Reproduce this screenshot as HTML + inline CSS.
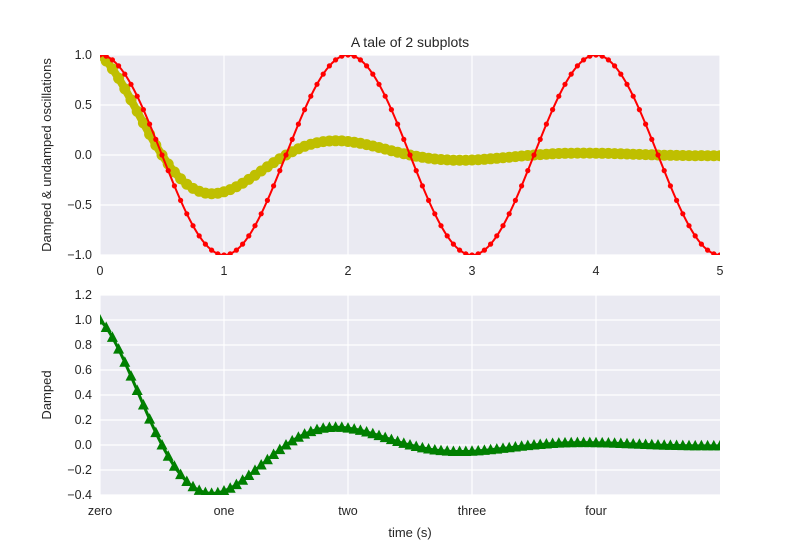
<!DOCTYPE html>
<html><head><meta charset="utf-8"><style>
body{margin:0;background:#fff;}
svg{display:block;font-family:"Liberation Sans",sans-serif;}
</style></head><body>
<svg id="c" width="800" height="550"></svg>
<script>
const topXTicks=[0,1,2,3,4,5];
const topYTicks=[-1.0,-0.5,0.0,0.5,1.0];
const botXTicks=[0,1,2,3,4];
const botXLabels=["zero","one","two","three","four"];
const botYTicks=[-0.4,-0.2,0.0,0.2,0.4,0.6,0.8,1.0,1.2];
const undampedX=[];for(let k=0;k<=100;k++)undampedX.push(k*0.05);
const undampedY=[1,.988,.951,.891,.809,.707,.588,.454,.309,.156,0,-.156,-.309,-.454,-.588,-.707,-.809,-.891,-.951,-.988,-1,
-.988,-.951,-.891,-.809,-.707,-.588,-.454,-.309,-.156,0,.156,.309,.454,.588,.707,.809,.891,.951,.988,1,
.988,.951,.891,.809,.707,.588,.454,.309,.156,0,-.156,-.309,-.454,-.588,-.707,-.809,-.891,-.951,-.988,-1,
-.988,-.951,-.891,-.809,-.707,-.588,-.454,-.309,-.156,0,.156,.309,.454,.588,.707,.809,.891,.951,.988,1,
.988,.951,.891,.809,.707,.588,.454,.309,.156,0,-.156,-.309,-.454,-.588,-.707,-.809,-.891,-.951,-.988,-1];
const dampedX=[];for(let k=0;k<=100;k++)dampedX.push(k*0.05);
const dampedY=[1,.940,.861,.767,.662,.551,.436,.320,.207,.099,0,-.090,-.170,-.237,-.292,-.334,-.363,-.381,-.387,-.382,
-.368,-.346,-.317,-.282,-.244,-.203,-.160,-.118,-.076,-.037,0,.033,.062,.087,.107,.123,.134,.140,.142,.141,
.135,.127,.117,.104,.090,.075,.059,.043,.028,.013,0,-.012,-.023,-.032,-.040,-.045,-.049,-.052,-.052,-.052,
-.050,-.047,-.043,-.038,-.033,-.027,-.022,-.016,-.010,-.005,0,.004,.008,.012,.015,.017,.018,.019,.019,.019,
.018,.017,.016,.014,.012,.010,.008,.006,.004,.002,0,-.002,-.003,-.004,-.005,-.006,-.007,-.006,-.007,-.007,-.007];

const svg=document.getElementById('c');const NS='http://www.w3.org/2000/svg';
function mk(t,a,p){const e=document.createElementNS(NS,t);for(const k in a)e.setAttribute(k,a[k]);(p||svg).appendChild(e);return e;}
const L=100,R=720;
const sx=x=>L+(x/5)*(R-L);
const syTop=y=>155-y*100;
const syBot=y=>495-(y+0.4)*125;
function smooth(xs,ys,fx,fy){const P=xs.map((x,i)=>[fx(x),fy(ys[i])]);let d='M'+P[0][0]+','+P[0][1];
for(let i=0;i<P.length-1;i++){const p0=P[Math.max(0,i-1)],p1=P[i],p2=P[i+1],p3=P[Math.min(P.length-1,i+2)];
d+=' C'+(p1[0]+(p2[0]-p0[0])/6)+','+(p1[1]+(p2[1]-p0[1])/6)+' '+(p2[0]-(p3[0]-p1[0])/6)+','+(p2[1]-(p3[1]-p1[1])/6)+' '+p2[0]+','+p2[1];}return d;}

// top axes
const g1=mk('g',{});


mk('rect',{x:L,y:55,width:R-L,height:200,fill:'#EAEAF2'},g1);
topXTicks.forEach(t=>{mk('line',{x1:sx(t),x2:sx(t),y1:55,y2:255,stroke:'#fff','stroke-width':1.2},g1);
const tx=mk('text',{x:sx(t),y:275,'text-anchor':'middle','font-size':12.5,fill:'#262626'},g1);tx.textContent=t;
});
topYTicks.forEach(t=>{mk('line',{x1:L,x2:R,y1:syTop(t),y2:syTop(t),stroke:'#fff','stroke-width':1.2},g1);
const tx=mk('text',{x:L-8,y:syTop(t)+4,'text-anchor':'end','font-size':12.5,fill:'#262626'},g1);tx.textContent=t.toFixed(1).replace('-','−');
});
const cp1=mk('clipPath',{id:'cp1'});mk('rect',{x:L,y:55,width:R-L,height:200},cp1);
const s1=mk('g',{'clip-path':'url(#cp1)'},g1);
const yl=mk('path',{d:smooth(dampedX,dampedY,sx,syTop),fill:'none',stroke:'#BFBF00','stroke-width':8},s1);

dampedX.forEach((x,i)=>{const c=mk('circle',{cx:sx(x),cy:syTop(dampedY[i]),r:5.5,fill:'#BFBF00'},s1);
});
const rl=mk('path',{d:smooth(undampedX,undampedY,sx,syTop),fill:'none',stroke:'#FF0000','stroke-width':2},s1);

undampedX.forEach((x,i)=>{const c=mk('circle',{cx:sx(x),cy:syTop(undampedY[i]),r:2.6,fill:'#FF0000'},s1);
});
let t=mk('text',{x:410,y:47,'text-anchor':'middle','font-size':14,fill:'#262626'});t.textContent='A tale of 2 subplots';

t=mk('text',{x:0,y:0,transform:'translate(51,155) rotate(-90)','text-anchor':'middle','font-size':13,fill:'#262626'});t.textContent='Damped & undamped oscillations';


// bottom axes
const g2=mk('g',{});


mk('rect',{x:L,y:295,width:R-L,height:200,fill:'#EAEAF2'},g2);
botXTicks.forEach((v,i)=>{mk('line',{x1:sx(v),x2:sx(v),y1:295,y2:495,stroke:'#fff','stroke-width':1.2},g2);
const tx=mk('text',{x:sx(v),y:515,'text-anchor':'middle','font-size':12.5,fill:'#262626'},g2);tx.textContent=botXLabels[i];
});
botYTicks.forEach(v=>{mk('line',{x1:L,x2:R,y1:syBot(v),y2:syBot(v),stroke:'#fff','stroke-width':1.2},g2);
const tx=mk('text',{x:L-8,y:syBot(v)+4,'text-anchor':'end','font-size':12.5,fill:'#262626'},g2);tx.textContent=v.toFixed(1).replace('-','−');
});
const cp2=mk('clipPath',{id:'cp2'});mk('rect',{x:L,y:295,width:R-L,height:200},cp2);
const s2=mk('g',{'clip-path':'url(#cp2)'},g2);
const gl=mk('path',{d:smooth(dampedX,dampedY,sx,syBot),fill:'none',stroke:'#007F00','stroke-width':3},s2);

dampedX.forEach((x,i)=>{const cx=sx(x),cy=syBot(dampedY[i]);
const p=mk('polygon',{points:(cx)+','+(cy-6)+' '+(cx-5.5)+','+(cy+4.5)+' '+(cx+5.5)+','+(cy+4.5),fill:'#007F00'},s2);
});
t=mk('text',{x:0,y:0,transform:'translate(51,395) rotate(-90)','text-anchor':'middle','font-size':13,fill:'#262626'});t.textContent='Damped';

t=mk('text',{x:410,y:537,'text-anchor':'middle','font-size':13,fill:'#262626'});t.textContent='time (s)';

</script>
</body></html>
